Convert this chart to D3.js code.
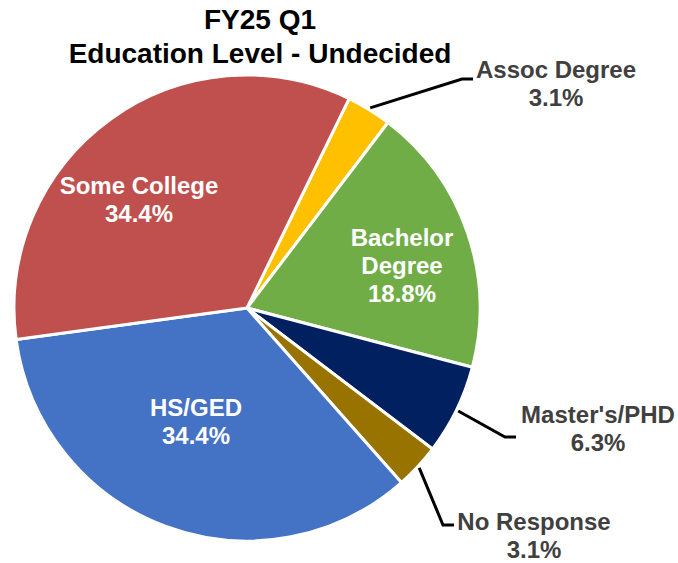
<!DOCTYPE html>
<html>
<head>
<meta charset="utf-8">
<script src="https://cdn.jsdelivr.net/npm/d3@7"></script>
<style>
  body { margin: 0; background: #fff; }
  text { font-family: "Liberation Sans", Arial, sans-serif; font-weight: bold; }
</style>
</head>
<body>
<div id="chart"></div>
<script>
// data
const categories = ["Assoc Degree", "Bachelor Degree", "Master's/PHD", "No Response", "HS/GED", "Some College"];
const counts = [1, 6, 2, 1, 11, 11];
const percentLabels = ["3.1%", "18.8%", "6.3%", "3.1%", "34.4%", "34.4%"];
const colors = ["#FFC000", "#70AD47", "#002060", "#997300", "#4472C4", "#C0504D"];

// label layout (offsets from pie centre), lines of text per label
const labelLines = [["Assoc Degree"], ["Bachelor", "Degree"], ["Master's/PHD"], ["No Response"], ["HS/GED"], ["Some College"]];
const labelOffsets = [[309, -230], [155, -62], [351, 115], [287, 222], [-51, 108], [-108, -114]];
const outside = [true, false, true, true, false, false];
const elbowOffsets = [[215, -229], [0, 0], [258, 129], [196, 217], [0, 0], [0, 0]];

const width = 678, height = 563;
const cx = 247, cy = 308, radius = 233;
const startDeg = 26;

const svg = d3.select("#chart").append("svg")
    .attr("width", width)
    .attr("height", height);

// title
svg.append("text")
    .attr("x", 260).attr("y", 29)
    .attr("text-anchor", "middle")
    .style("font-size", "28px")
    .attr("fill", "#000")
    .text("FY25 Q1");
svg.append("text")
    .attr("x", 260).attr("y", 63)
    .attr("text-anchor", "middle")
    .style("font-size", "28px")
    .attr("fill", "#000")
    .text("Education Level - Undecided");

const pie = d3.pie()
    .sort(null)
    .value(d => d)
    .startAngle(startDeg * Math.PI / 180)
    .endAngle((startDeg + 360) * Math.PI / 180);

const arc = d3.arc().innerRadius(0).outerRadius(radius);
const edgeArc = d3.arc().innerRadius(radius + 2).outerRadius(radius + 2);

const arcs = pie(counts);

const g = svg.append("g")
    .attr("transform", "translate(" + cx + "," + cy + ")");

g.selectAll("path.slice")
    .data(arcs)
    .enter().append("path")
    .attr("class", "slice")
    .attr("d", arc)
    .attr("fill", (d, i) => colors[i])
    .attr("stroke", "#fff")
    .attr("stroke-width", 3)
    .attr("stroke-linejoin", "round");

// leader lines for outside labels
g.selectAll("path.leader")
    .data(arcs.filter((d, i) => outside[i]))
    .enter().append("path")
    .attr("class", "leader")
    .attr("fill", "none")
    .attr("stroke", "#000")
    .attr("stroke-width", 3)
    .attr("d", d => {
        const p0 = edgeArc.centroid(d);
        const e = elbowOffsets[d.index];
        return d3.line()([p0, e, [e[0] + 11, e[1]]]);
    });

// labels
const labels = g.selectAll("text.lbl")
    .data(arcs)
    .enter().append("text")
    .attr("class", "lbl")
    .attr("text-anchor", "middle")
    .style("font-size", "24px")
    .attr("fill", (d, i) => outside[i] ? "#404040" : "#fff");

labels.each(function(d, i) {
    const t = d3.select(this);
    const lines = labelLines[i].concat([percentLabels[i]]);
    const [ox, oy] = labelOffsets[i];
    lines.forEach((s, k) => {
        t.append("tspan")
            .attr("x", ox)
            .attr("y", oy + k * 28)
            .text(s);
    });
});
</script>
</body>
</html>
